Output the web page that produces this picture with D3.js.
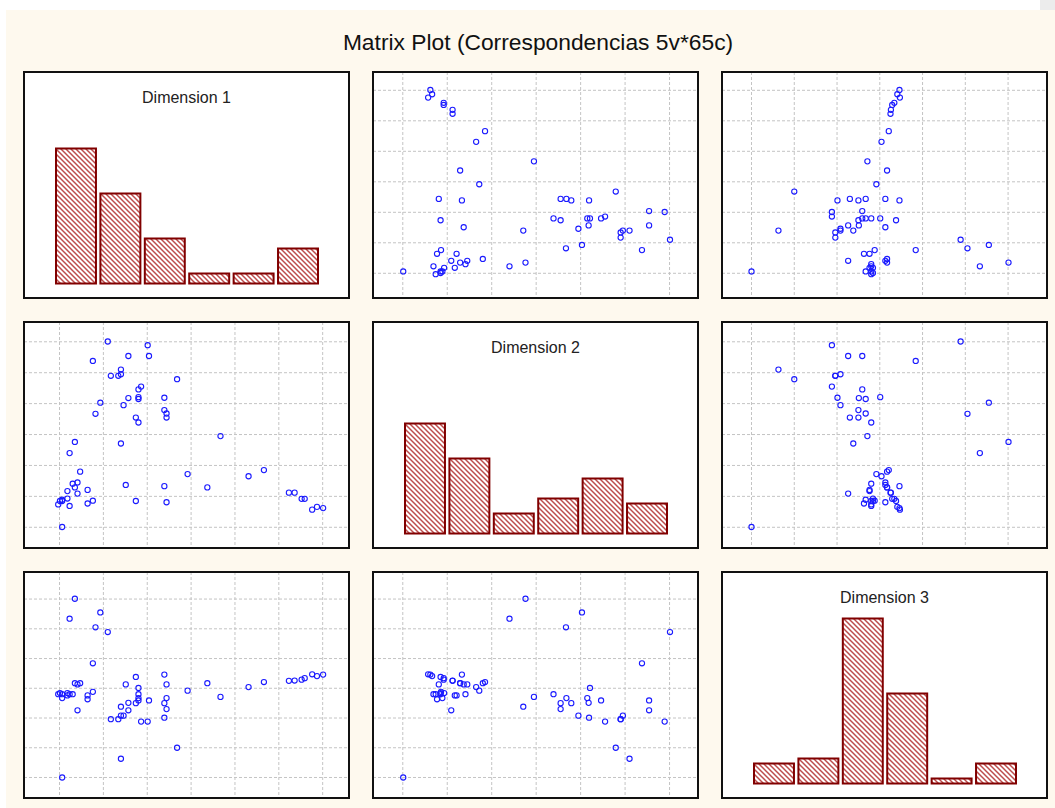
<!DOCTYPE html>
<html>
<head>
<meta charset="utf-8">
<script src="https://cdn.jsdelivr.net/npm/d3@7"></script>
<style>
  body { margin: 0; background: #ffffff; }
  svg { display: block; font-family: "Liberation Sans", Arial, sans-serif; }
</style>
</head>
<body>
<script>
// variable names, shown on the diagonal
const dimNames = ["Dimension 1", "Dimension 2", "Dimension 3"];

// case coordinates (in grid units: gridline k = value k)
const dim1 = [6.01, 5.87, 5.76, 5.59, 5.52, 5.36, 5.23, 4.66, 4.31, 3.67, 3.37, 2.92, 2.68, 2.39, 2.44, 2.39, 2.44, 2.44, 2.39, 2.01,
  1.86, 2.04, 1.74, 1.80, 1.80, 1.80, 1.80, 1.74, 1.57, 1.57, 1.51, 1.40, 1.46, 1.40, 1.40, 1.34, 1.17, 1.10, 0.82, 0.93,
  0.76, 0.76, 0.64, 0.64, 0.41, 0.47, 0.41, 0.35, 0.35, 0.23, 0.30, 0.18, 0.18, 0.06, 0.06, 0.01, -0.03, 0.06, 0.23];
const dim2 = [0.62, 0.66, 0.57, 0.92, 0.92, 1.12, 1.12, 1.85, 1.65, 2.95, 1.29, 1.72, 4.79, 4.19, 3.55, 3.79, 3.68, 0.81, 1.33, 5.89,
  4.55, 5.54, 3.55, 4.46, 4.15, 3.39, 4.21, 0.85, 5.54, 4.18, 1.37, 5.10, 3.95, 4.95, 2.71, 4.90, 4.90, 6.01, 3.67, 4.03,
  5.38, 0.86, 0.77, 1.21, 1.09, 1.80, 1.45, 1.29, 2.76, 2.40, 1.41, 1.17, 0.93, 0.89, 0.85, 0.85, 0.74, 0.01, 0.69];
const dim3 = [3.46, 3.41, 3.47, 3.34, 3.29, 3.26, 3.25, 3.21, 3.04, 2.71, 3.17, 2.92, 1.00, 2.01, 2.30, 2.50, 2.67, 3.13, 3.46, 1.88,
  1.88, 2.59, 2.50, 2.59, 2.67, 2.80, 3.01, 3.38, 2.26, 2.51, 3.13, 0.63, 2.08, 2.08, 2.38, 1.96, 1.96, 4.89, 5.05, 5.55,
  3.84, 2.88, 2.63, 2.76, 2.26, 3.17, 3.13, 3.17, 6.01, 5.34, 2.80, 2.76, 2.84, 2.67, 2.80, 2.84, 2.80, 0.00, 2.80];

// histogram counts per bin (6 bins each)
const hist1 = [27, 18, 9, 2, 2, 7];
const hist2 = [22, 15, 4, 7, 11, 6];
const hist3 = [4, 5, 33, 18, 1, 4];

const gridTicks = [0, 1, 2, 3, 4, 5, 6];

const dims = [dim1, dim2, dim3];
const hists = [hist1, hist2, hist3];
const domains = [[-0.81, 6.6], [-0.67, 6.64], [-0.69, 6.91]];

const W = 1055, H = 808;
const pw = 325, ph = 226;
const left0 = 24, top0 = 72, stepX = 349, stepY = 250;

const svg = d3.select("body").append("svg")
  .attr("width", W)
  .attr("height", H);

// diagonal hatch used by the histogram bars
const defs = svg.append("defs");
const pat = defs.append("pattern")
  .attr("id", "hatch")
  .attr("patternUnits", "userSpaceOnUse")
  .attr("width", 5)
  .attr("height", 5);
pat.append("rect").attr("width", 5).attr("height", 5).attr("fill", "#ffffff");
pat.append("path")
  .attr("d", "M-1,-1 L6,6 M-1,4 L1,6 M4,-1 L6,1")
  .attr("stroke", "#bd4c4c")
  .attr("stroke-width", 1.5);

// background
svg.append("rect").attr("width", W).attr("height", H).attr("fill", "#ffffff");
svg.append("rect")
  .attr("x", 6).attr("y", 10)
  .attr("width", W - 6).attr("height", H - 10)
  .attr("fill", "#fef9ee");
svg.append("rect")
  .attr("x", 1040).attr("y", 0)
  .attr("width", 15).attr("height", 10)
  .attr("fill", "#ececec");

svg.append("text")
  .attr("x", 538)
  .attr("y", 50)
  .attr("text-anchor", "middle")
  .attr("font-size", "22.8px")
  .attr("fill", "#111")
  .text("Matrix Plot (Correspondencias 5v*65c)");

const xScales = domains.map(d => d3.scaleLinear().domain(d).range([0, pw]));
const yScales = domains.map(d => d3.scaleLinear().domain(d).range([ph, 0]));

const histX = d3.scaleBand().domain(d3.range(6)).range([32, 294]).paddingInner(0.1);
const histY = d3.scaleLinear().domain([0, 40]).range([211.5, 11.5]);

for (let r = 0; r < 3; r++) {
  for (let c = 0; c < 3; c++) {
    const g = svg.append("g")
      .attr("transform", "translate(" + (left0 + c * stepX) + "," + (top0 + r * stepY) + ")");

    g.append("rect")
      .attr("width", pw).attr("height", ph)
      .attr("fill", "#ffffff");

    if (r === c) {
      // histogram on the diagonal
      g.append("text")
        .attr("x", pw / 2)
        .attr("y", 31)
        .attr("text-anchor", "middle")
        .attr("font-size", "16px")
        .attr("fill", "#222")
        .text(dimNames[r]);

      g.selectAll("rect.bar")
        .data(hists[r])
        .enter()
        .append("rect")
        .attr("class", "bar")
        .attr("x", (d, i) => histX(i))
        .attr("y", d => histY(d))
        .attr("width", histX.bandwidth())
        .attr("height", d => histY(0) - histY(d))
        .attr("fill", "url(#hatch)")
        .attr("stroke", "#800000")
        .attr("stroke-width", 2);
    } else {
      const xs = xScales[c], ys = yScales[r];

      g.append("g")
        .selectAll("line")
        .data(gridTicks)
        .enter()
        .append("line")
        .attr("x1", d => xs(d)).attr("x2", d => xs(d))
        .attr("y1", 0).attr("y2", ph)
        .attr("stroke", "#c4c4c4")
        .attr("stroke-dasharray", "3,2");

      g.append("g")
        .selectAll("line")
        .data(gridTicks)
        .enter()
        .append("line")
        .attr("y1", d => ys(d)).attr("y2", d => ys(d))
        .attr("x1", 0).attr("x2", pw)
        .attr("stroke", "#c4c4c4")
        .attr("stroke-dasharray", "3,2");

      const xv = dims[c], yv = dims[r];
      g.selectAll("circle")
        .data(d3.range(xv.length))
        .enter()
        .append("circle")
        .attr("cx", i => xs(xv[i]))
        .attr("cy", i => ys(yv[i]))
        .attr("r", 2.6)
        .attr("fill", "none")
        .attr("stroke", "#1a1aff")
        .attr("stroke-width", 1.1);
    }

    g.append("rect")
      .attr("width", pw).attr("height", ph)
      .attr("fill", "none")
      .attr("stroke", "#111")
      .attr("stroke-width", 2);
  }
}
</script>
</body>
</html>
